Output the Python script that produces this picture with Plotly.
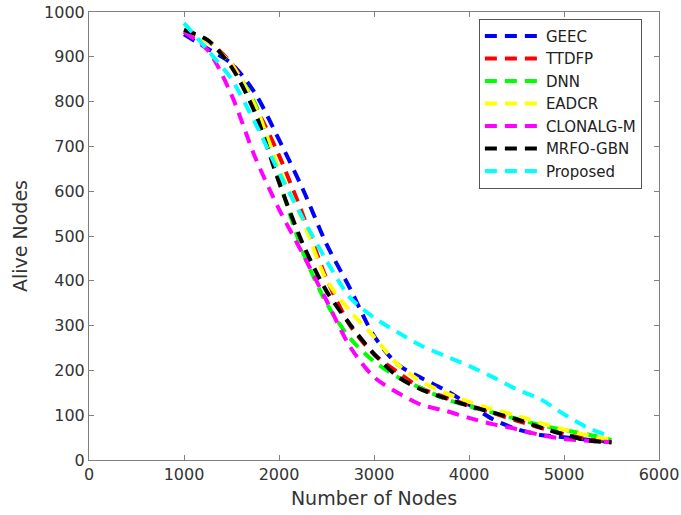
import plotly.graph_objects as go

nodes = [1000, 1250, 1500, 1750, 2000, 2250, 2500, 2750, 3000, 3250,
         3500, 3750, 4000, 4250, 4500, 4750, 5000, 5250, 5500]

geec = [950, 918, 885, 818, 715, 605, 482, 382, 277, 213,
        183, 156, 124, 91, 69, 56, 51, 45, 40]
ttdfp = [958, 935, 885, 790, 680, 548, 405, 300, 236, 196,
         160, 140, 122, 105, 88, 72, 58, 47, 40]
dnn = [960, 935, 880, 795, 625, 465, 350, 271, 220, 185,
       160, 136, 120, 106, 92, 78, 67, 57, 45]
eadcr = [962, 933, 883, 790, 650, 535, 402, 332, 275, 213,
         175, 150, 130, 113, 99, 83, 68, 55, 45]
clonalg = [955, 915, 815, 675, 560, 460, 356, 252, 185, 150,
           123, 110, 94, 80, 69, 56, 47, 43, 40]
mrfo = [960, 937, 877, 774, 620, 483, 377, 302, 237, 186,
        157, 138, 121, 106, 91, 73, 57, 44, 39]
proposed = [975, 915, 850, 752, 642, 540, 445, 362, 318, 285,
            255, 232, 210, 185, 158, 136, 102, 72, 52]

names = ["GEEC", "TTDFP", "DNN", "EADCR", "CLONALG-M", "MRFO-GBN", "Proposed"]
series = [geec, ttdfp, dnn, eadcr, clonalg, mrfo, proposed]
colors = ["#0000FF", "#FF0000", "#00FF00", "#FFFF00", "#FF00FF", "#000000", "#00FFFF"]

x_ticks = [0, 1000, 2000, 3000, 4000, 5000, 6000]
y_ticks = [0, 100, 200, 300, 400, 500, 600, 700, 800, 900, 1000]

fig = go.Figure()
for n, s, c in zip(names, series, colors):
    fig.add_trace(go.Scatter(
        x=nodes, y=s, name=n, mode="lines",
        line=dict(color=c, width=4, dash="12px,8px", shape="spline", smoothing=0.8),
    ))

axis_common = dict(
    showline=True, linecolor="#808080", linewidth=1, mirror="ticks",
    ticks="inside", ticklen=5, tickcolor="#808080",
    showgrid=False, zeroline=False, automargin=False,
    tickfont=dict(family="DejaVu Sans", size=16, color="#333333"),
    title_font=dict(family="DejaVu Sans", size=19, color="#333333"),
)

fig.update_layout(
    width=681, height=515,
    margin=dict(l=89, r=22, t=12, b=55),
    paper_bgcolor="white", plot_bgcolor="white",
    font=dict(family="DejaVu Sans", color="#333333"),
    xaxis=dict(range=[0, 6000], tickvals=x_ticks, title=dict(text="Number of Nodes", standoff=8), **axis_common),
    yaxis=dict(range=[0, 1000], tickvals=y_ticks, title=dict(text="Alive Nodes", standoff=11), **axis_common),
    legend=dict(
        x=0.684, y=0.985, xanchor="left", yanchor="top",
        bordercolor="#555555", borderwidth=1, bgcolor="white",
        font=dict(family="DejaVu Sans", size=15, color="#222222"),
        itemwidth=56, tracegroupgap=0,
    ),
    showlegend=True,
)

fig.write_html("out.html")
